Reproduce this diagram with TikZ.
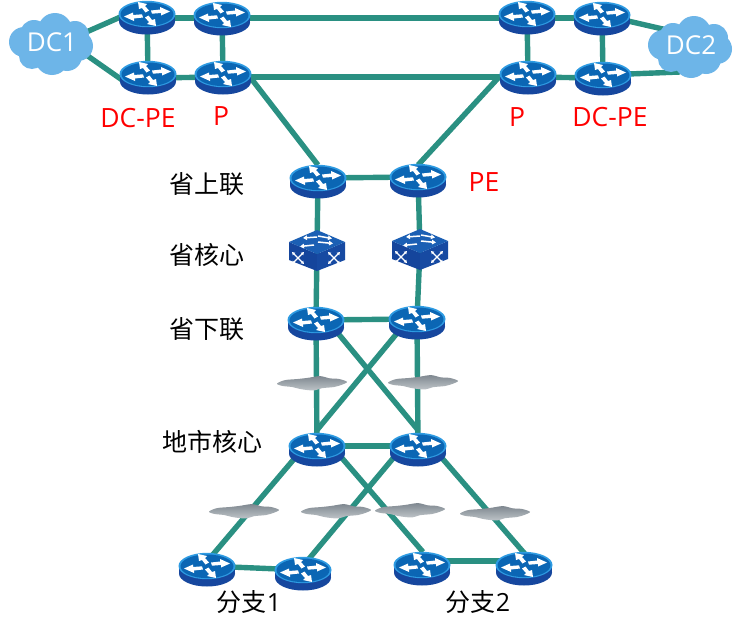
\documentclass[tikz,border=0pt]{standalone}
\usepackage{fontspec}
\usetikzlibrary{arrows.meta}
\setmainfont{Open Sans}
\newfontfamily\cjk{Noto Sans CJK SC}
\definecolor{linkc}{HTML}{2A9082}
\definecolor{rtop}{HTML}{0B66B4}
\definecolor{rrim}{HTML}{2E9BE2}
\definecolor{rbase}{HTML}{16479E}
\definecolor{swtop}{HTML}{1B5FB4}
\definecolor{swl}{HTML}{15459C}
\definecolor{swr}{HTML}{174AA2}
\definecolor{cld}{HTML}{6DB5E8}
\definecolor{gclda}{HTML}{7F8890}
\definecolor{gcldb}{HTML}{BEC4C8}
\tikzset{
  link/.style={draw=linkc,line width=5.4pt},
  lab/.style={inner sep=0pt,font=\fontsize{25}{27}\selectfont\cjk},
  redlab/.style={inner sep=0pt,text=red,font=\fontsize{26.5}{28}\selectfont},
  dclab/.style={inner sep=0pt,text=white,font=\fontsize{26}{28}\selectfont},
  swa/.style={draw=white,line width=1.5pt,-{Triangle[length=4pt,width=4.5pt]}},
  swb/.style={draw=white,line width=1.2pt,{Triangle[length=3pt,width=3.4pt]}-{Triangle[length=3pt,width=3.4pt]}}
}
\newcommand\rt[1]{%
\begin{scope}[shift={(#1)}]
  \fill[rbase] (0,7.5) ellipse [x radius=28pt,y radius=13pt];
  \fill[rbase] (-28,-1) rectangle (28,8);
  \fill[rrim] (0,0) ellipse [x radius=28.5pt,y radius=13.2pt];
  \fill[rtop] (0,0.3) ellipse [x radius=26.5pt,y radius=11.8pt];
  \fill[white] (4,-3.5) -- (13,-4.5) -- (13,-7) -- (23,-2.5) -- (14,1.5) -- (14,-1) -- (5,-0.3) -- cycle;
  \fill[white] (-4,3.5) -- (-13,4.5) -- (-13,7) -- (-23,2.5) -- (-14,-1.5) -- (-14,1) -- (-5,0.3) -- cycle;
  \fill[white] (-1.5,-1.5) -- (-5,-6) -- (-8,-5) -- (-9,-12) -- (0,-10) -- (-2,-8) -- (2,-3.5) -- cycle;
  \fill[white] (1.5,1.5) -- (5,6) -- (8,5) -- (9,12) -- (0,10) -- (2,8) -- (-2,3.5) -- cycle;
\end{scope}}
\newcommand\swicon[1]{%
\begin{scope}[shift={(#1)}]
  \fill[swl] (-28,-8) -- (0,4) -- (0,21) -- (-28,10) -- cycle;
  \fill[swr] (28,-8) -- (0,4) -- (0,21) -- (28,10) -- cycle;
  \fill[swtop] (0,-20) -- (28,-8) -- (0,4) -- (-28,-8) -- cycle;
  \draw[swa] (0,-13) -- (-14,-12);
  \draw[swa] (1,-14) -- (15,-11.5);
  \draw[swa] (-3,-5) -- (-17,-3.5);
  \draw[swa] (1,-8) -- (16,-6.5);
  \draw[swb] (-25,2) -- (-13,14);
  \draw[swb] (-13,2) -- (-25,14);
  \draw[swb] (11,14) -- (23,2);
  \draw[swb] (11,2) -- (23,14);
\end{scope}}
\newcommand\dccloud[1]{%
\begin{scope}[shift={(#1)}]
  \fill[cld] (-27,-2) circle (15pt) (-17,-10) circle (14pt) (4,-14) circle (17pt) (24,-9) circle (14pt)
    (27,2) circle (15pt) (16,12) circle (15pt) (1,14) circle (17pt) (-19,12) circle (13pt) (0,0) circle (23pt);
\end{scope}}
\newcommand\graycloud[1]{%
\begin{scope}[shift={(#1)},yscale=1.15]
  \shade[top color=gclda,bottom color=gcldb] plot[smooth cycle] coordinates {(-35,0.5) (-27,-2.5) (-14,-3.5) (-4,-4.5) (8,-6) (18,-4) (27,-3.5) (35,-1) (30,1.5) (22,3.5) (10,4.5) (2,6.5) (-10,5.5) (-20,3.5) (-30,2.5)};
\end{scope}}
\begin{document}
\begin{tikzpicture}[x=1pt,y=-1pt]
\useasboundingbox (0,0) rectangle (745,632);
\fill[white] (0,0) rectangle (745,632);
% device positions
\foreach \n/\x/\y in {
  a1/147/14,a2/222/15,a3/527/14,a4/602/15,
  b1/148/74,b2/223/74,b3/528/74,b4/603/75,
  p1/318/178,p2/418/177,
  s1/317/250,s2/420/249,
  d1/316/320,d2/417/319,
  c1/317/446,c2/418/446,
  e1/207/566,e2/303/570,e3/422/565,e4/524/565,
  dcl/51/44,dcr/690/47,
  g1/312/383,g2/423/382,g3/244/511,g4/336/511,g5/410/510,g6/495/513,
  % link ends that differ from the device centres
  dl1/75/37,dl2/75/47,al1/125/15,bl1/125/82,
  dr1/680/33,dr2/680/72,
  ah1/147/18,ah2/222/18,ah3/527/18,ah4/602/18,
  bh1/148/78,bh2/223/77,bh3/528/77,bh4/603/78,
  bx2/250/77,bx3/500/76,px1/318/165,px2/418/165,
  dx1/327/320,dx2/408/320,cx1/317/430,cx2/418/430,
  cb1/300/452,eb1/210/558,cb2/335/450,eb3/423/552,cb3/400/450,eb2/308/560,cb4/435/450,eb4/525/554,
  eh3/422/561,eh4/524/561}
  {\coordinate (\n) at (\x,\y);}
% connectors
\foreach \u/\v in {dl1/al1,dl2/bl1,ah1/ah2,ah2/ah3,ah3/ah4,bh1/bh2,bh2/bh3,bh3/bh4,a1/b1,a2/b2,a3/b3,a4/b4,a4/dr1,b4/dr2,
  bx2/px1,bx3/px2,p1/p2,p1/s1,p2/s2,s1/d1,s2/d2,d1/d2,d1/c1,d2/c2,dx1/cx2,dx2/cx1,c1/c2,
  cb1/eb1,cb2/eb3,cb3/eb2,cb4/eb4,e1/e2,eh3/eh4}
  {\draw[link] (\u) -- (\v);}
% devices
\foreach \n in {a1,a2,a3,a4,b1,b2,b3,b4,p1,p2,d1,d2,c1,c2,e1,e2,e3,e4}{\rt{\n}}
\swicon{s1}\swicon{s2}
\foreach \n in {g1,g2,g3,g4,g5,g6}{\graycloud{\n}}
\dccloud{dcl}
\dccloud{dcr}
% labels
\node[dclab] (tdc1) at (52,42) {DC1};
\node[dclab] (tdc2) at (691,45) {DC2};
\node[redlab] (tpe1) at (138,118) {DC-PE};
\node[redlab] (tp1) at (221,116) {P};
\node[redlab] (tp2) at (517,117) {P};
\node[redlab] (tpe2) at (610,117) {DC-PE};
\node[redlab] (tpe) at (484,182) {PE};
\node[lab] (l1) at (207,184) {省上联};
\node[lab] (l2) at (207,255) {省核心};
\node[lab] (l3) at (207,329) {省下联};
\node[lab] (l4) at (212,442) {地市核心};
\node[lab] (l5) at (249,602) {分支{\normalfont 1}};
\node[lab] (l6) at (478,602) {分支{\normalfont 2}};
\end{tikzpicture}
\end{document}
